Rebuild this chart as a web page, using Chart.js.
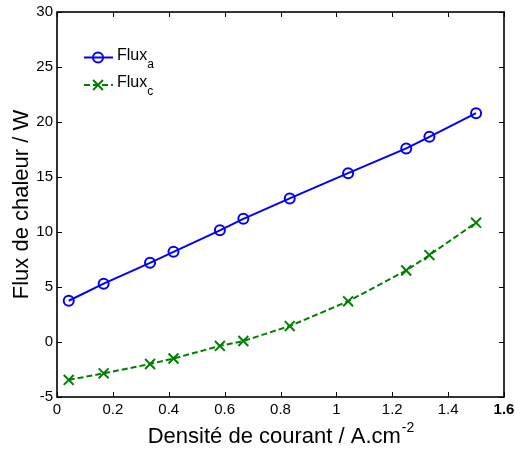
<!DOCTYPE html>
<html>
<head>
<meta charset="utf-8">
<script src="https://cdn.jsdelivr.net/npm/chart.js@4/dist/chart.umd.min.js"></script>
<style>
html,body{margin:0;padding:0;background:#fff;}
#wrap{width:515px;height:450px;}
</style>
</head>
<body>
<div id="wrap"><canvas id="c" width="515" height="450"></canvas></div>
<script>
// Data
const currentDensity = [0.042, 0.167, 0.333, 0.417, 0.583, 0.667, 0.833, 1.042, 1.25, 1.333, 1.5];
const fluxA = [3.75, 5.3, 7.2, 8.2, 10.15, 11.2, 13.05, 15.35, 17.6, 18.65, 20.8];
const fluxC = [-3.45, -2.85, -2.0, -1.5, -0.36, 0.09, 1.45, 3.7, 6.5, 7.9, 10.85];
const seriesNames = ["Flux", "Flux"];
const seriesSubs = ["a", "c"];
const xTitle = "Densité de courant / A.cm";
const xTitleSup = "-2";
const yTitle = "Flux de chaleur / W";

const FONT = "'Liberation Sans', Arial, sans-serif";

function pts(ys){ return currentDensity.map((x,i)=>({x:x,y:ys[i]})); }

const framePlugin = {
  id: 'frame',
  afterDatasetsDraw(chart){
    const ctx = chart.ctx;
    const a = chart.chartArea;
    const xs = chart.scales.x, ys = chart.scales.y;
    ctx.save();
    ctx.strokeStyle = '#000';
    ctx.lineWidth = 1.6;
    const L = Math.round(a.left), R = Math.round(a.right), T = Math.round(a.top), B = Math.round(a.bottom);
    ctx.strokeRect(L, T, R-L, B-T);
    ctx.lineWidth = 1;
    const tl = 5;
    ctx.beginPath();
    xs.ticks.forEach(t=>{
      const p = Math.round(xs.getPixelForValue(t.value))+0.5;
      ctx.moveTo(p, B); ctx.lineTo(p, B-tl);
      ctx.moveTo(p, T); ctx.lineTo(p, T+tl);
    });
    ys.ticks.forEach(t=>{
      const p = Math.round(ys.getPixelForValue(t.value))+0.5;
      ctx.moveTo(L, p); ctx.lineTo(L+tl, p);
      ctx.moveTo(R, p); ctx.lineTo(R-tl, p);
    });
    ctx.stroke();

    // axis titles
    ctx.fillStyle = '#000';
    ctx.font = '22px ' + FONT;
    ctx.textBaseline = 'alphabetic';
    const w1 = ctx.measureText(xTitle).width;
    ctx.font = '14px ' + FONT;
    const w2 = ctx.measureText(xTitleSup).width;
    const cx = (a.left + a.right)/2;
    const x0 = cx - (w1+w2)/2;
    ctx.font = '22px ' + FONT;
    ctx.textAlign = 'left';
    ctx.fillText(xTitle, x0, 443);
    ctx.font = '14px ' + FONT;
    ctx.fillText(xTitleSup, x0 + w1 + 1, 432);

    ctx.save();
    ctx.translate(22, (a.top + a.bottom)/2);
    ctx.rotate(-Math.PI/2);
    ctx.font = '22px ' + FONT;
    ctx.textAlign = 'center';
    ctx.textBaseline = 'middle';
    ctx.fillText(yTitle, 0, 0);
    ctx.restore();

    // legend
    const rows = [57.5, 85];
    chart.data.datasets.forEach((ds, i)=>{
      const y = rows[i];
      ctx.save();
      ctx.strokeStyle = ds.borderColor;
      ctx.fillStyle = 'rgba(0,0,0,0)';
      ctx.lineWidth = ds.borderWidth;
      ctx.setLineDash(ds.borderDash || []);
      ctx.beginPath();
      ctx.moveTo(84, y); ctx.lineTo(113, y);
      ctx.stroke();
      ctx.setLineDash([]);
      ctx.lineWidth = ds.pointBorderWidth;
      Chart.helpers.drawPoint(ctx, {pointStyle: ds.pointStyle, radius: ds.pointRadius, rotation: 0, borderWidth: ds.pointBorderWidth}, 98, y);
      ctx.restore();
      ctx.fillStyle = '#000';
      ctx.textAlign = 'left';
      ctx.textBaseline = 'alphabetic';
      ctx.font = '16px ' + FONT;
      ctx.fillText(seriesNames[i], 117, y + 2);
      const w = ctx.measureText(seriesNames[i]).width;
      ctx.font = '12px ' + FONT;
      ctx.fillText(seriesSubs[i], 117 + w, y + 10);
    });
    ctx.restore();
  }
};

function zeroPad(s){ s.paddingLeft = 0; s.paddingRight = 0; s.paddingTop = 0; s.paddingBottom = 0; }

new Chart(document.getElementById('c'), {
  type: 'scatter',
  data: {
    datasets: [
      {
        label: 'Flux_a',
        data: pts(fluxA),
        showLine: true,
        borderColor: '#0000ff',
        backgroundColor: 'rgba(0,0,0,0)',
        borderWidth: 2,
        pointStyle: 'circle',
        pointRadius: 5,
        pointBorderWidth: 2,
        pointBackgroundColor: 'rgba(0,0,0,0)',
        pointBorderColor: '#0000ff',
        tension: 0
      },
      {
        label: 'Flux_c',
        data: pts(fluxC),
        showLine: true,
        borderColor: '#008000',
        backgroundColor: 'rgba(0,0,0,0)',
        borderWidth: 2,
        borderDash: [6, 3],
        pointStyle: 'crossRot',
        pointRadius: 7,
        pointBorderWidth: 2,
        pointBorderColor: '#008000',
        tension: 0
      }
    ]
  },
  options: {
    responsive: false,
    devicePixelRatio: 1,
    animation: false,
    layout: { padding: { top: 12, right: 11, left: 0, bottom: 0 } },
    plugins: { legend: { display: false }, tooltip: { enabled: false } },
    scales: {
      x: {
        type: 'linear',
        min: 0, max: 1.6,
        afterFit(s){ s.height = 53; zeroPad(s); },
        grid: { display: false, drawTicks: false },
        border: { display: false },
        ticks: {
          stepSize: 0.2,
          color: '#000',
          padding: 4,
          maxRotation: 0,
          autoSkip: false,
          font: (c) => ({ family: FONT, size: 15, weight: (c.tick && Math.abs(c.tick.value - 1.6) < 1e-6) ? 'bold' : 'normal' }),
          callback: (v) => String(+v.toFixed(1))
        }
      },
      y: {
        type: 'linear',
        min: -5, max: 30,
        afterFit(s){ s.width = 57; zeroPad(s); },
        grid: { display: false, drawTicks: false },
        border: { display: false },
        ticks: {
          stepSize: 5,
          color: '#000',
          padding: 4,
          font: { family: FONT, size: 15 },
          callback: (v) => String(v)
        }
      }
    }
  },
  plugins: [framePlugin]
});
</script>
</body>
</html>
